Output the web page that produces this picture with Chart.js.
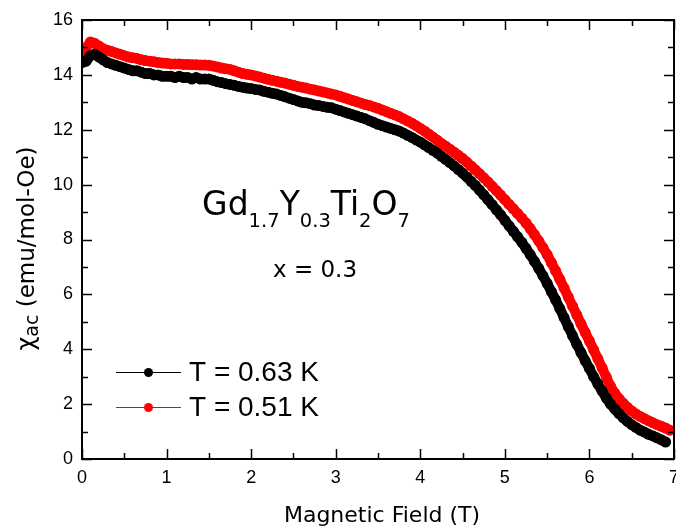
<!DOCTYPE html>
<html>
<head>
<meta charset="utf-8">
<script src="https://cdn.jsdelivr.net/npm/chart.js@4/dist/chart.umd.min.js"></script>
<style>
  html, body { margin: 0; padding: 0; background: #ffffff; }
  #wrap { width: 676px; height: 529px; }
</style>
</head>
<body>
<div id="wrap"><canvas id="chart" width="676" height="529"></canvas></div>
<script>
// Applied field (T)
const field = [
  0.00,0.05,0.10,0.15,0.20,0.25,0.30,0.35,0.40,0.45,
  0.50,0.55,0.60,0.65,0.70,0.75,0.80,0.85,0.90,0.95,
  1.00,1.05,1.10,1.15,1.20,1.25,1.30,1.35,1.40,1.45,
  1.50,1.55,1.60,1.65,1.70,1.75,1.80,1.85,1.90,1.95,
  2.00,2.05,2.10,2.15,2.20,2.25,2.30,2.35,2.40,2.45,
  2.50,2.55,2.60,2.65,2.70,2.75,2.80,2.85,2.90,2.95,
  3.00,3.05,3.10,3.15,3.20,3.25,3.30,3.35,3.40,3.45,
  3.50,3.55,3.60,3.65,3.70,3.75,3.80,3.85,3.90,3.95,
  4.00,4.05,4.10,4.15,4.20,4.25,4.30,4.35,4.40,4.45,
  4.50,4.55,4.60,4.65,4.70,4.75,4.80,4.85,4.90,4.95,
  5.00,5.05,5.10,5.15,5.20,5.25,5.30,5.35,5.40,5.45,
  5.50,5.55,5.60,5.65,5.70,5.75,5.80,5.85,5.90,5.95,
  6.00,6.05,6.10,6.15,6.20,6.25,6.30,6.35,6.40,6.45,
  6.50,6.55,6.60,6.65,6.70,6.75,6.80,6.85,6.90,6.95
];

// chi_ac at T = 0.63 K (emu/mol-Oe)
const chiT063 = [
  14.45,14.5,14.7,14.75,14.65,14.55,14.45,14.4,14.35,14.3,
  14.25,14.2,14.15,14.15,14.1,14.05,14.05,14.0,14.0,13.95,
  13.95,13.95,13.9,13.95,13.9,13.9,13.85,13.9,13.85,13.85,
  13.85,13.8,13.75,13.72,13.68,13.65,13.62,13.58,13.55,13.52,
  13.5,13.47,13.45,13.4,13.37,13.33,13.3,13.25,13.2,13.15,
  13.1,13.05,13.0,12.98,12.95,12.9,12.88,12.85,12.82,12.8,
  12.75,12.7,12.65,12.6,12.55,12.5,12.45,12.4,12.33,12.27,
  12.2,12.15,12.1,12.05,12.0,11.95,11.88,11.8,11.72,11.63,
  11.55,11.45,11.35,11.25,11.15,11.03,10.92,10.8,10.68,10.55,
  10.42,10.28,10.12,9.97,9.8,9.63,9.45,9.27,9.08,8.9,
  8.7,8.5,8.3,8.1,7.9,7.68,7.45,7.2,6.95,6.68,
  6.4,6.1,5.8,5.48,5.15,4.82,4.5,4.18,3.88,3.58,
  3.3,3.0,2.73,2.47,2.22,2.0,1.82,1.65,1.5,1.37,
  1.25,1.15,1.05,0.98,0.9,0.84,0.77,0.7,0.62
];

// chi_ac at T = 0.51 K (emu/mol-Oe)
const chiT051 = [
  14.8,15.0,15.2,15.15,15.05,14.95,14.9,14.85,14.8,14.75,
  14.7,14.65,14.62,14.6,14.55,14.52,14.5,14.48,14.45,14.43,
  14.42,14.4,14.4,14.4,14.38,14.38,14.37,14.37,14.36,14.36,
  14.35,14.32,14.29,14.25,14.22,14.2,14.15,14.1,14.05,14.02,
  14.0,13.96,13.92,13.88,13.84,13.8,13.77,13.73,13.7,13.66,
  13.62,13.58,13.55,13.52,13.48,13.45,13.41,13.38,13.34,13.3,
  13.27,13.22,13.17,13.12,13.07,13.02,12.97,12.92,12.88,12.83,
  12.78,12.72,12.66,12.6,12.54,12.48,12.4,12.32,12.24,12.15,
  12.05,11.95,11.84,11.73,11.62,11.5,11.4,11.29,11.18,11.07,
  10.95,10.82,10.68,10.54,10.4,10.25,10.1,9.94,9.78,9.62,
  9.45,9.28,9.12,8.95,8.78,8.6,8.4,8.18,7.95,7.7,
  7.45,7.16,6.86,6.55,6.23,5.9,5.57,5.25,4.93,4.61,
  4.3,3.98,3.65,3.32,2.98,2.65,2.4,2.2,2.03,1.88,
  1.75,1.64,1.55,1.47,1.39,1.32,1.25,1.19,1.13,1.05
];

const seriesLabels = ['T = 0.63 K', 'T = 0.51 K'];
const seriesColors = ['#000000', '#ff0000'];

const xMajorTicks = [0, 1, 2, 3, 4, 5, 6, 7];
const xMinorTicks = [0.5, 1.5, 2.5, 3.5, 4.5, 5.5, 6.5];
const yMajorTicks = [0, 2, 4, 6, 8, 10, 12, 14, 16];
const yMinorTicks = [1, 3, 5, 7, 9, 11, 13, 15];

const TITLE_FONT = '"DejaVu Sans", sans-serif';
const TICK_FONT = '"Liberation Sans", Arial, sans-serif';

function toPoints(xs, ys) {
  return ys.map((y, i) => ({ x: xs[i], y: y }));
}

// Draws text made of runs with their own size and baseline shift (for subscripts)
function drawRuns(ctx, runs, cx, baseline, family) {
  let total = 0;
  runs.forEach(r => {
    ctx.font = r.size + 'px ' + family;
    r.w = ctx.measureText(r.t).width;
    total += r.w;
  });
  let x = cx - total / 2;
  ctx.textAlign = 'left';
  ctx.textBaseline = 'alphabetic';
  runs.forEach(r => {
    ctx.font = r.size + 'px ' + family;
    ctx.fillText(r.t, x, baseline + (r.dy || 0));
    x += r.w;
  });
}

const decorations = {
  id: 'decorations',
  afterDraw(chart) {
    const ctx = chart.ctx;
    const area = chart.chartArea;
    const xs = chart.scales.x;
    const ys = chart.scales.y;
    ctx.save();
    ctx.fillStyle = '#000';
    ctx.strokeStyle = '#000';

    // frame
    ctx.lineWidth = 2;
    ctx.strokeRect(area.left, area.top, area.right - area.left, area.bottom - area.top);

    // inward ticks on all four sides
    ctx.lineWidth = 1.5;
    ctx.beginPath();
    const xTick = (v, len) => {
      const p = Math.round(xs.getPixelForValue(v)) + 0.5;
      ctx.moveTo(p, area.bottom); ctx.lineTo(p, area.bottom - len);
      ctx.moveTo(p, area.top); ctx.lineTo(p, area.top + len);
    };
    const yTick = (v, len) => {
      const p = Math.round(ys.getPixelForValue(v)) + 0.5;
      ctx.moveTo(area.left, p); ctx.lineTo(area.left + len, p);
      ctx.moveTo(area.right, p); ctx.lineTo(area.right - len, p);
    };
    xMajorTicks.forEach(v => xTick(v, 10));
    xMinorTicks.forEach(v => xTick(v, 6));
    yMajorTicks.forEach(v => yTick(v, 10));
    yMinorTicks.forEach(v => yTick(v, 6));
    ctx.stroke();

    // x-axis title
    ctx.textAlign = 'center';
    ctx.textBaseline = 'alphabetic';
    ctx.font = '22px ' + TITLE_FONT;
    ctx.fillText('Magnetic Field (T)', 382, 521.7);

    // y-axis title with subscript
    ctx.save();
    ctx.translate(34, 248.5);
    ctx.rotate(-Math.PI / 2);
    drawRuns(ctx, [
      { t: 'χ', size: 24 },
      { t: 'ac', size: 19, dy: 4 },
      { t: ' (emu/mol-Oe)', size: 23 }
    ], 0, 0, TITLE_FONT);
    ctx.restore();

    // compound formula and composition
    drawRuns(ctx, [
      { t: 'Gd', size: 33 },
      { t: '1.7', size: 19.5, dy: 11.7 },
      { t: 'Y', size: 33 },
      { t: '0.3', size: 19.5, dy: 11.7 },
      { t: 'Ti', size: 33 },
      { t: '2', size: 19.5, dy: 11.7 },
      { t: 'O', size: 33 },
      { t: '7', size: 19.5, dy: 11.7 }
    ], 306, 215, TITLE_FONT);
    ctx.textAlign = 'center';
    ctx.font = '23px ' + TITLE_FONT;
    ctx.fillText('x = 0.3', 315, 276.7);

    // legend: thin line + symbol, then label
    const rows = [372, 407];
    chart.data.datasets.forEach((ds, i) => {
      const y = rows[i];
      ctx.strokeStyle = ds.borderColor;
      ctx.lineWidth = 1;
      ctx.beginPath();
      ctx.moveTo(116, y + 0.5);
      ctx.lineTo(181, y + 0.5);
      ctx.stroke();
      ctx.fillStyle = ds.pointBackgroundColor;
      ctx.beginPath();
      ctx.arc(148.5, y + 0.5, 4.5, 0, Math.PI * 2);
      ctx.fill();
      ctx.fillStyle = '#000';
      ctx.textAlign = 'left';
      ctx.textBaseline = 'alphabetic';
      ctx.font = '28px ' + TICK_FONT;
      ctx.fillText(ds.label, 189, y + 9);
    });
    ctx.restore();
  }
};

function series(label, values, color) {
  return {
    label: label,
    data: toPoints(field, values),
    borderColor: color,
    backgroundColor: color,
    borderWidth: 10,
    borderJoinStyle: 'round',
    borderCapStyle: 'round',
    pointRadius: 5.5,
    pointBorderWidth: 0,
    pointBackgroundColor: color,
    tension: 0,
    clip: 0
  };
}

new Chart(document.getElementById('chart'), {
  type: 'line',
  data: {
    datasets: [
      series(seriesLabels[0], chiT063, seriesColors[0]),
      series(seriesLabels[1], chiT051, seriesColors[1])
    ]
  },
  options: {
    responsive: false,
    animation: false,
    devicePixelRatio: 1,
    layout: { autoPadding: false, padding: { top: 20, right: 2, left: 0, bottom: 0 } },
    plugins: {
      legend: { display: false },
      tooltip: { enabled: false }
    },
    scales: {
      x: {
        type: 'linear',
        min: 0,
        max: 7,
        afterFit(scale) { scale.height = 70; scale.paddingLeft = 0; scale.paddingRight = 0; },
        afterBuildTicks(scale) { scale.ticks = xMajorTicks.map(v => ({ value: v })); },
        ticks: {
          color: '#000',
          font: { family: TICK_FONT, size: 18 },
          padding: 8,
          maxRotation: 0
        },
        grid: { display: false, drawTicks: false },
        border: { display: false }
      },
      y: {
        type: 'linear',
        min: 0,
        max: 16,
        afterFit(scale) { scale.width = 82; },
        afterBuildTicks(scale) { scale.ticks = yMajorTicks.map(v => ({ value: v })); },
        ticks: {
          color: '#000',
          font: { family: TICK_FONT, size: 18 },
          padding: 9
        },
        grid: { display: false, drawTicks: false },
        border: { display: false }
      }
    }
  },
  plugins: [decorations]
});
</script>
</body>
</html>
